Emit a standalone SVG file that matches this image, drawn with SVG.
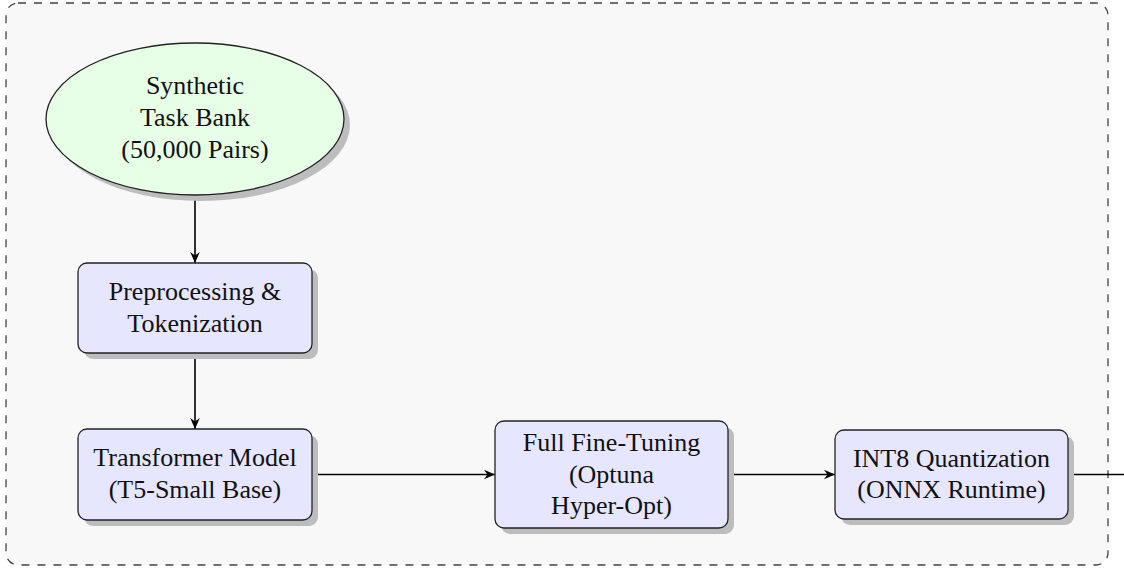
<svg xmlns="http://www.w3.org/2000/svg" width="1124" height="568" viewBox="0 0 1124 568">
  <defs>
    <style>
      .frame { fill: #f8f8f8; stroke: #444; stroke-width: 1.3; stroke-dasharray: 8 8; }
      .shadow { fill: #bdbdbd; stroke: none; }
      .box { fill: #e6e6ff; stroke: #222; stroke-width: 1.3; }
      .oval { fill: #e6ffe6; stroke: #222; stroke-width: 1.3; }
      .label { font-family: "Liberation Serif", "Times New Roman", serif; font-size: 26px; fill: #111; text-anchor: middle; }
      .edge { fill: none; stroke: #000; stroke-width: 1.6; }
    </style>
    <marker id="stealth" markerUnits="userSpaceOnUse" markerWidth="14" markerHeight="12" viewBox="-12 -6 14 12" refX="0" refY="0" orient="auto">
      <path d="M0,0 L-11,-4.8 L-7.5,0 L-11,4.8 Z" fill="#000"/>
    </marker>
  </defs>

  <rect width="1124" height="568" fill="#ffffff"/>
  <!-- dashed outer container -->
  <rect class="frame" x="6" y="3" width="1102" height="562" rx="12" ry="12"/>

  <!-- connectors -->
  <g id="connectors">
    <line class="edge" x1="195" y1="195" x2="195" y2="263" marker-end="url(#stealth)"/>
    <line class="edge" x1="195" y1="353" x2="195" y2="429" marker-end="url(#stealth)"/>
    <line class="edge" x1="312" y1="474.5" x2="495" y2="474.5" marker-end="url(#stealth)"/>
    <line class="edge" x1="728" y1="474.5" x2="835" y2="474.5" marker-end="url(#stealth)"/>
    <line class="edge" x1="1068" y1="474.5" x2="1126" y2="474.5"/>
  </g>

  <!-- data source -->
  <g id="task-bank">
    <ellipse class="shadow" cx="201" cy="125" rx="149" ry="76"/>
    <ellipse class="oval" cx="195" cy="119" rx="149" ry="76"/>
    <text class="label" x="195" y="94">Synthetic</text>
    <text class="label" x="195" y="126">Task Bank</text>
    <text class="label" x="195" y="158">(50,000 Pairs)</text>
  </g>

  <g id="preprocessing">
    <rect class="shadow" x="84" y="269" width="234" height="90" rx="9"/>
    <rect class="box" x="78" y="263" width="234" height="90" rx="9"/>
    <text class="label" x="195" y="300">Preprocessing &amp;</text>
    <text class="label" x="195" y="332">Tokenization</text>
  </g>

  <g id="transformer">
    <rect class="shadow" x="84" y="435" width="234" height="91" rx="9"/>
    <rect class="box" x="78" y="429" width="234" height="91" rx="9"/>
    <text class="label" x="195" y="466">Transformer Model</text>
    <text class="label" x="195" y="498">(T5-Small Base)</text>
  </g>

  <g id="fine-tuning">
    <rect class="shadow" x="501" y="427" width="233" height="107" rx="9"/>
    <rect class="box" x="495" y="421" width="233" height="107" rx="9"/>
    <text class="label" x="611.5" y="451">Full Fine-Tuning</text>
    <text class="label" x="611.5" y="482.5">(Optuna</text>
    <text class="label" x="611.5" y="514">Hyper-Opt)</text>
  </g>

  <g id="quantization">
    <rect class="shadow" x="841" y="436" width="233" height="89" rx="9"/>
    <rect class="box" x="835" y="430" width="233" height="89" rx="9"/>
    <text class="label" x="951.5" y="466.5">INT8 Quantization</text>
    <text class="label" x="951.5" y="498">(ONNX Runtime)</text>
  </g>
</svg>
